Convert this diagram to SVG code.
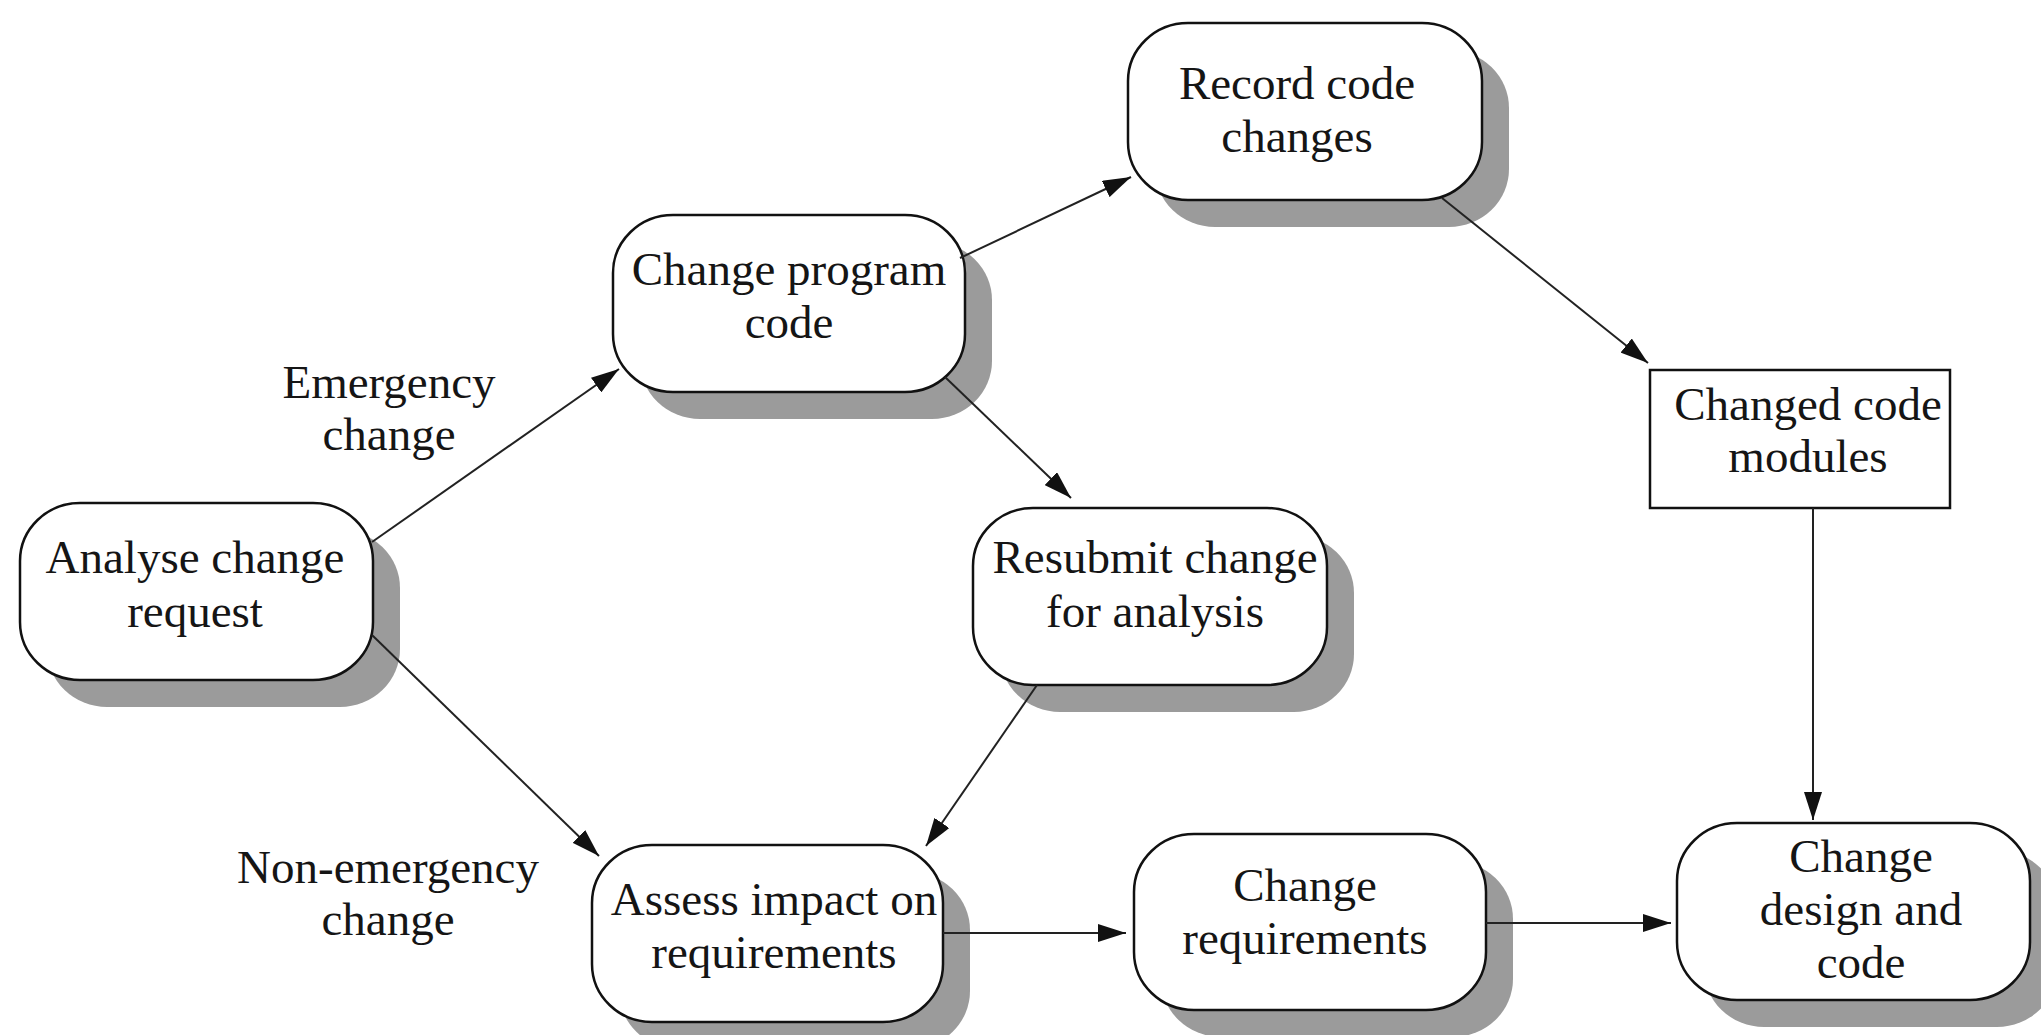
<svg xmlns="http://www.w3.org/2000/svg" width="2041" height="1035" viewBox="0 0 2041 1035">
<style>
.shadow{fill:#9b9b9b;stroke:none}
.box{fill:#ffffff;stroke:#111;stroke-width:2.5}
.t{font-family:"Liberation Serif","Times New Roman",serif;font-size:47px;fill:#151515;text-anchor:middle}
.conn{stroke:#222;stroke-width:2;fill:none;marker-end:url(#arr)}
</style>
<defs>
<marker id="arr" viewBox="0 0 28 18" refX="28" refY="9" markerWidth="28" markerHeight="18" markerUnits="userSpaceOnUse" orient="auto">
<path d="M0,0 L28,9 L0,18 z" fill="#111"/>
</marker>
</defs>
<rect width="2041" height="1035" fill="#ffffff"/>

<g id="analyse">
<rect class="shadow" x="47" y="530" width="353" height="177" rx="60" ry="58"/>
<rect class="box" x="20" y="503" width="353" height="177" rx="60" ry="58"/>
<text class="t" x="195" y="573">Analyse change</text>
<text class="t" x="195" y="627">request</text>
</g>

<g id="change-program">
<rect class="shadow" x="640" y="242" width="352" height="177" rx="60" ry="58"/>
<rect class="box" x="613" y="215" width="352" height="177" rx="60" ry="58"/>
<text class="t" x="789" y="285">Change program</text>
<text class="t" x="789" y="338">code</text>
</g>

<g id="record">
<rect class="shadow" x="1155" y="50" width="354" height="177" rx="60" ry="58"/>
<rect class="box" x="1128" y="23" width="354" height="177" rx="60" ry="58"/>
<text class="t" x="1297" y="99">Record code</text>
<text class="t" x="1297" y="152">changes</text>
</g>

<g id="changed-modules">
<rect class="box" x="1650" y="370" width="300" height="138"/>
<text class="t" x="1808" y="420">Changed code</text>
<text class="t" x="1808" y="472">modules</text>
</g>

<g id="resubmit">
<rect class="shadow" x="1000" y="535" width="354" height="177" rx="60" ry="58"/>
<rect class="box" x="973" y="508" width="354" height="177" rx="60" ry="58"/>
<text class="t" x="1155" y="573">Resubmit change</text>
<text class="t" x="1155" y="627">for analysis</text>
</g>

<g id="assess">
<rect class="shadow" x="619" y="872" width="351" height="177" rx="60" ry="58"/>
<rect class="box" x="592" y="845" width="351" height="177" rx="60" ry="58"/>
<text class="t" x="774" y="915">Assess impact on</text>
<text class="t" x="774" y="968">requirements</text>
</g>

<g id="change-req">
<rect class="shadow" x="1161" y="861" width="352" height="176" rx="60" ry="58"/>
<rect class="box" x="1134" y="834" width="352" height="176" rx="60" ry="58"/>
<text class="t" x="1305" y="901">Change</text>
<text class="t" x="1305" y="954">requirements</text>
</g>

<g id="change-design">
<rect class="shadow" x="1704" y="850" width="353" height="177" rx="60" ry="58"/>
<rect class="box" x="1677" y="823" width="353" height="177" rx="60" ry="58"/>
<text class="t" x="1861" y="872">Change</text>
<text class="t" x="1861" y="925">design and</text>
<text class="t" x="1861" y="978">code</text>
</g>

<g id="labels">
<text class="t" x="389" y="398">Emergency</text>
<text class="t" x="389" y="450">change</text>
<text class="t" x="388" y="883">Non-emergency</text>
<text class="t" x="388" y="935">change</text>
</g>

<g id="connectors">
<line class="conn" x1="372" y1="542" x2="619" y2="369"/>
<line class="conn" x1="372" y1="635" x2="599" y2="856"/>
<line class="conn" x1="960" y1="258" x2="1131" y2="177"/>
<line class="conn" x1="945" y1="377" x2="1071" y2="498"/>
<line class="conn" x1="1442" y1="198" x2="1648" y2="363"/>
<line class="conn" x1="1813" y1="508" x2="1813" y2="820"/>
<line class="conn" x1="1037" y1="685" x2="926" y2="846"/>
<line class="conn" x1="943" y1="933" x2="1126" y2="933"/>
<line class="conn" x1="1486" y1="923" x2="1671" y2="923"/>
</g>
</svg>
